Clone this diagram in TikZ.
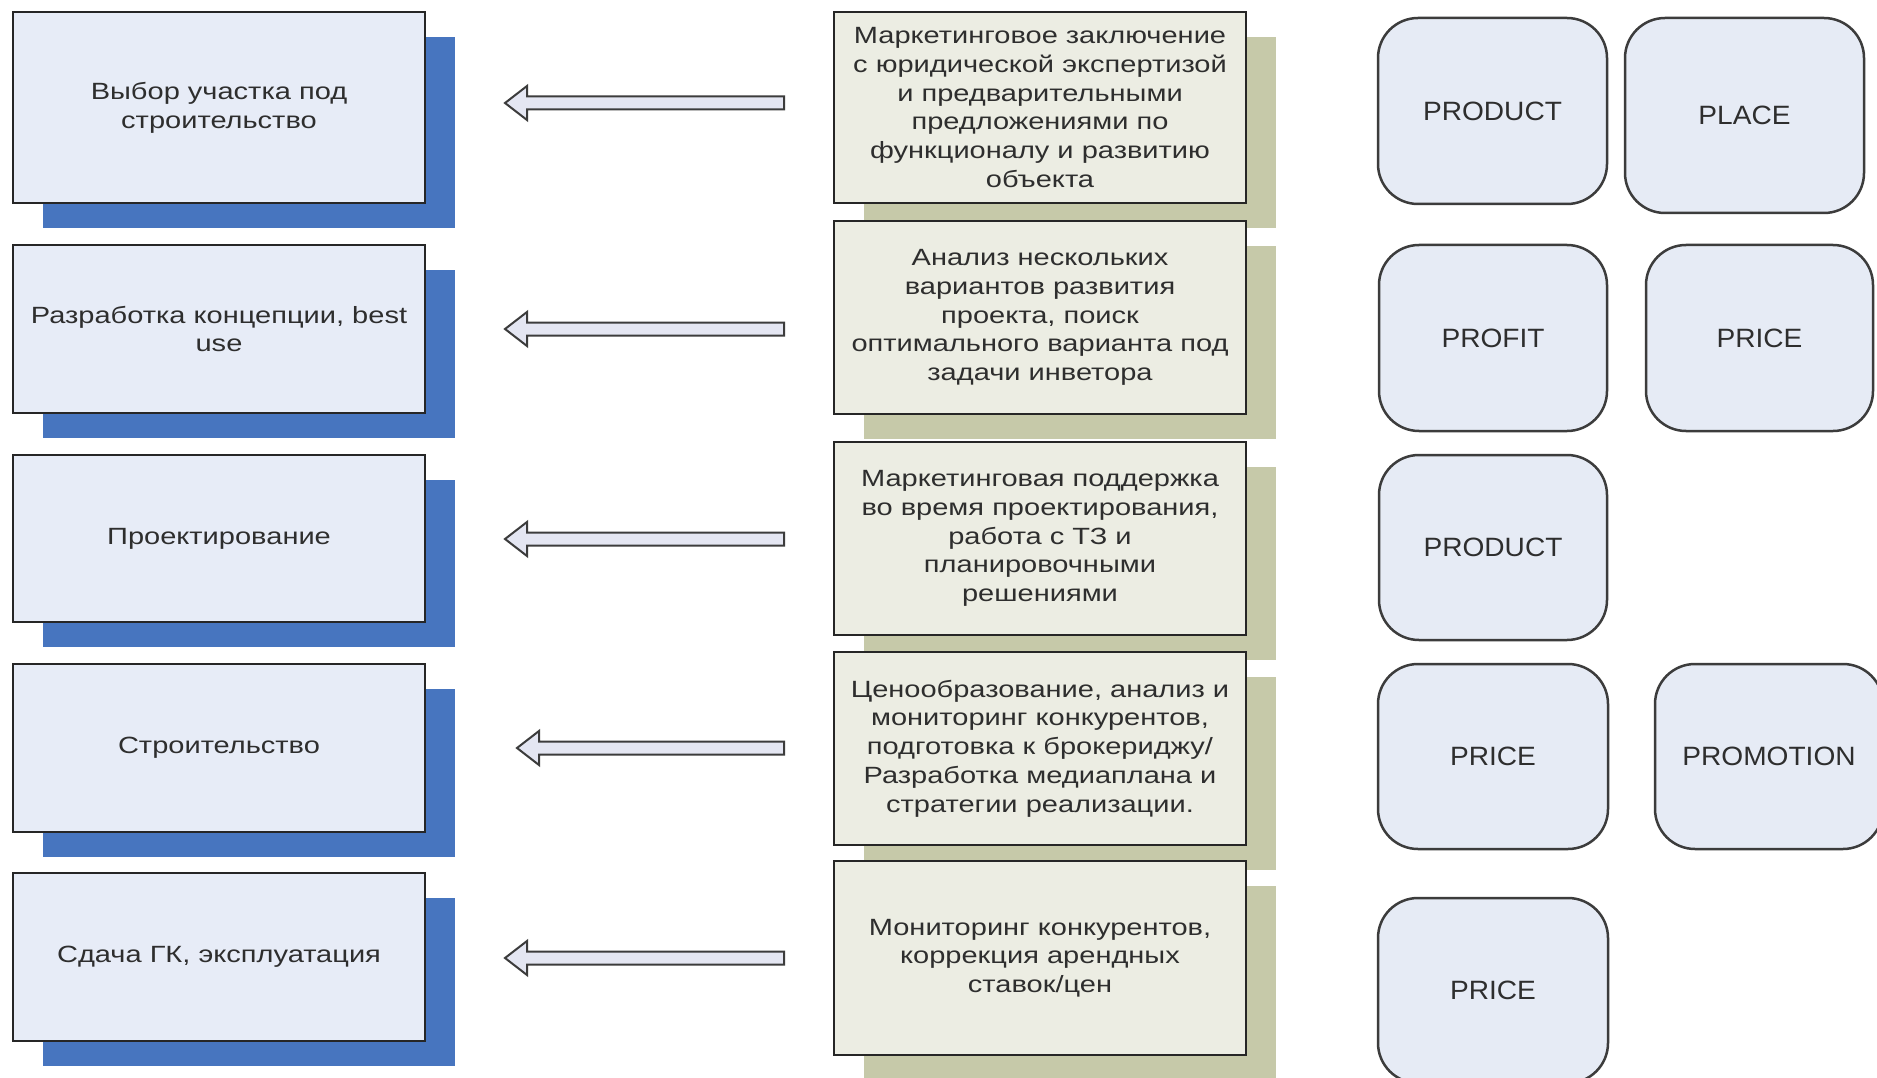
\documentclass[tikz,border=0pt]{standalone}
\usepackage{fontspec}
\setmainfont{Liberation Sans}
\newfontfamily\boxfont{Liberation Sans}[FakeStretch=1.235]
\newfontfamily\pfont{Liberation Sans}[FakeStretch=1.06]
\usetikzlibrary{shadows,calc}
\definecolor{leftfill}{HTML}{E7ECF7}
\definecolor{leftshadow}{HTML}{4775BF}
\definecolor{midfill}{HTML}{ECEDE3}
\definecolor{midshadow}{HTML}{C6C9A9}
\definecolor{roundfill}{HTML}{E6EBF5}
\definecolor{txt}{HTML}{2E2E2E}
\definecolor{edge}{HTML}{262626}
\definecolor{arrowfill}{HTML}{E4E6F2}
\tikzset{
  stagebox/.style={draw=edge, line width=2.5pt, fill=leftfill, inner sep=0pt,
    minimum width=412pt, align=center, text=txt,
    font=\boxfont\fontsize{23.5}{28.7}\selectfont,
    drop shadow={shadow xshift=30pt, shadow yshift=-25pt, fill=leftshadow, opacity=1, draw=none}},
  taskbox/.style={draw=edge, line width=2.5pt, fill=midfill, inner sep=0pt,
    minimum width=412pt, align=center, text=txt,
    font=\boxfont\fontsize{23.5}{28.7}\selectfont,
    drop shadow={shadow xshift=30pt, shadow yshift=-25pt, fill=midshadow, opacity=1, draw=none}},
  pbox/.style={draw=edge!90, line width=2.5pt, fill=roundfill, rounded corners=40pt,
    inner sep=0pt, align=center, text=txt, font=\pfont\fontsize{26.5}{30}\selectfont},
  blockarrow/.style={draw=edge!90, line width=2pt, fill=arrowfill, line join=miter}
}
\begin{document}
\begin{tikzpicture}[x=1pt,y=-1pt]
\clip (0,0) rectangle (1877,1078);
\fill[white] (0,0) rectangle (1877,1078);

% left column
\node[stagebox, minimum height=191pt] (l1) at (219,107.5) {Выбор участка под\\строительство};
\node[stagebox, minimum height=168pt] (l2) at (219,329) {Разработка концепции, best\\use};
\node[stagebox, minimum height=167pt] (l3) at (219,538.5) {Проектирование};
\node[stagebox, minimum height=168pt] (l4) at (219,748) {Строительство};
\node[stagebox, minimum height=168pt] (l5) at (219,957) {Сдача ГК, эксплуатация};

% middle column
\node[taskbox, minimum height=191pt] (m1) at (1040,107.5) {Маркетинговое заключение\\с юридической экспертизой\\и предварительными\\предложениями по\\функционалу и развитию\\объекта};
\node[taskbox, minimum height=193pt] (m2) at (1040,317.5) {Анализ нескольких\\вариантов развития\\проекта, поиск\\оптимального варианта под\\задачи инветора};
\node[taskbox, minimum height=193pt] (m3) at (1040,538.5) {Маркетинговая поддержка\\во время проектирования,\\работа с ТЗ и\\планировочными\\решениями};
\node[taskbox, minimum height=193pt] (m4) at (1040,748.5) {Ценообразование, анализ и\\мониторинг конкурентов,\\подготовка к брокериджу/\\Разработка медиаплана и\\стратегии реализации.};
\node[taskbox, minimum height=194pt] (m5) at (1040,958) {Мониторинг конкурентов,\\коррекция арендных\\ставок/цен};

% block arrows
\foreach \i/\y/\tx in {1/103/505, 2/329/505, 3/539/505, 4/748/517, 5/958/505}{
  \coordinate (at\i) at (\tx,\y);
  \coordinate (ae\i) at (784,\y);
  \draw[blockarrow] (at\i) -- ($(at\i)+(22,-17)$) -- ($(at\i)+(22,-6.5)$)
    -- ($(ae\i)+(0,-6.5)$) -- ($(ae\i)+(0,6.5)$) -- ($(at\i)+(22,6.5)$)
    -- ($(at\i)+(22,17)$) -- cycle;
}

% right column
\node[pbox, minimum width=229pt, minimum height=186pt] (r1a) at (1492.5,111) {PRODUCT};
\node[pbox, minimum width=239pt, minimum height=195pt] (r1b) at (1744.5,115.5) {PLACE};
\node[pbox, minimum width=228pt, minimum height=186pt] (r2a) at (1493,338) {PROFIT};
\node[pbox, minimum width=227pt, minimum height=186pt] (r2b) at (1759.5,338) {PRICE};
\node[pbox, minimum width=228pt, minimum height=185pt] (r3) at (1493,547.5) {PRODUCT};
\node[pbox, minimum width=230pt, minimum height=185pt] (r4a) at (1493,756.5) {PRICE};
\node[pbox, minimum width=228pt, minimum height=185pt] (r4b) at (1769,756.5) {PROMOTION};
\node[pbox, minimum width=230pt, minimum height=185pt] (r5) at (1493,990.5) {PRICE};
\end{tikzpicture}
\end{document}
